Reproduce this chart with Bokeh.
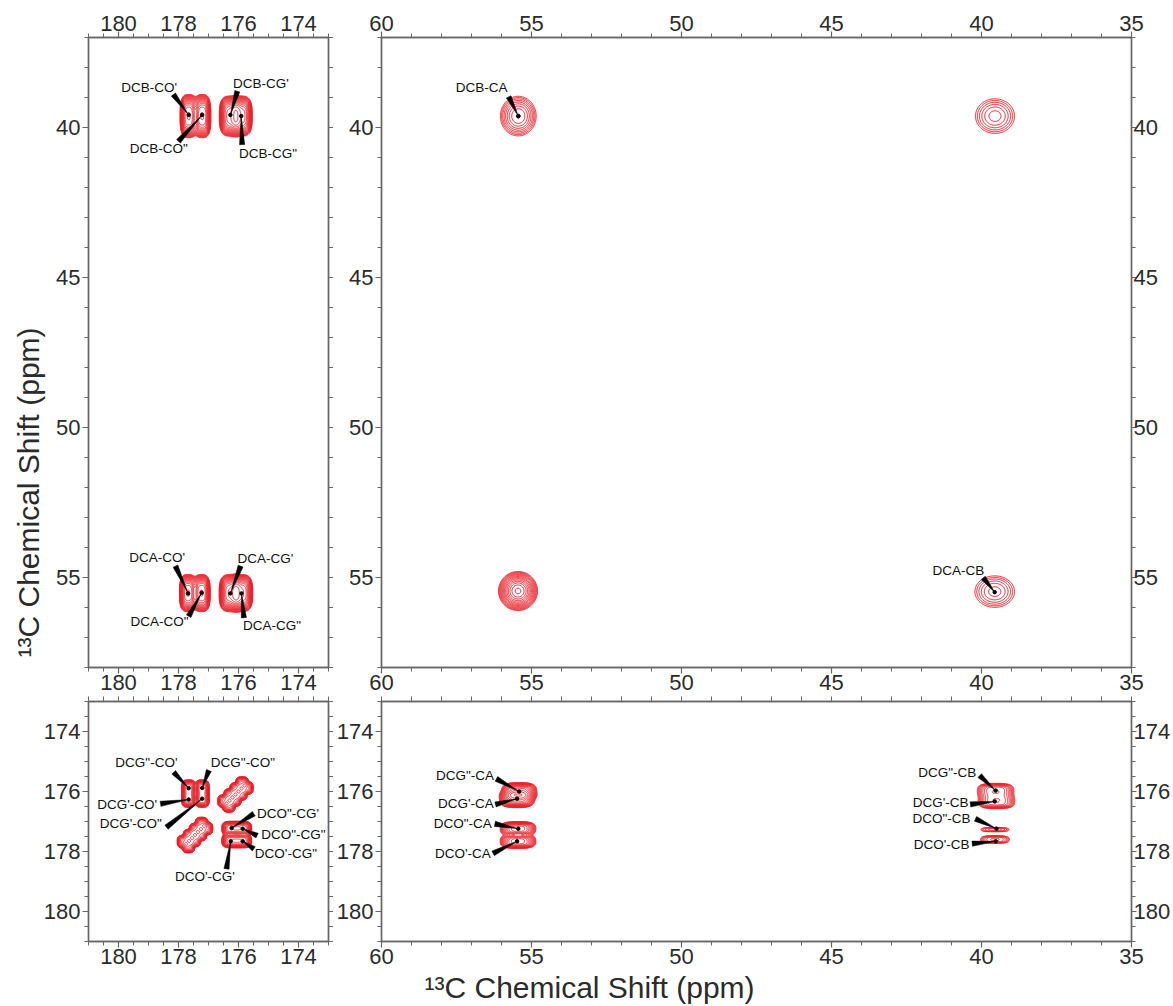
import numpy as np
from bokeh.plotting import figure
from bokeh.models import Range1d, LinearAxis, FixedTicker, Title
from bokeh.layouts import gridplot
from bokeh.core.properties import value
from bokeh.embed import file_html
from bokeh.resources import INLINE

# ---------------- axis ticks ----------------
CO_TICKS = [174, 176, 178, 180]            # carbonyl axis (both x and y)
ALI_Y_TICKS = [40, 45, 50, 55]             # aliphatic y axis (top row)
ALI_X_TICKS = [35, 40, 45, 50, 55, 60]     # aliphatic x axis (right column)
CO_MINOR = list(np.arange(173.0, 181.01, 0.5))
ALI_Y_MINOR = list(np.arange(37, 59, 1))
ALI_X_MINOR = list(np.arange(35, 61, 1))

# ---------------- peaks (centre x, centre y, width x, width y, amplitude) ----------------
# top-left: x = carbonyl region, y = aliphatic region
TL_PX = [177.66, 177.21, 176.27, 175.91, 177.68, 177.23, 176.27, 175.90]
TL_PY = [39.62, 39.62, 39.62, 39.62, 55.52, 55.52, 55.52, 55.52]
TL_WX = [0.20, 0.20, 0.26, 0.26, 0.20, 0.20, 0.26, 0.26]
TL_WY = [0.50, 0.50, 0.47, 0.47, 0.43, 0.43, 0.43, 0.43]
TL_AMP = [1.0, 1.0, 0.9, 0.9, 1.0, 1.0, 1.0, 1.0]

# top-right: x = aliphatic, y = aliphatic
TR_PX = [55.44, 39.55, 55.45, 39.56]
TR_PY = [39.62, 39.62, 55.45, 55.47]
TR_WX = [0.47, 0.62, 0.40, 0.63]
TR_WY = [0.52, 0.55, 0.40, 0.50]
TR_AMP = [0.25, 0.15, 0.70, 0.15]

# bottom-left: x = carbonyl, y = carbonyl
BL_PX = [177.66, 177.21, 177.66, 177.21,
         175.88, 176.08, 176.28, 176.48, 175.72, 175.92, 176.12, 176.32,
         177.23, 177.43, 177.63, 177.83, 177.07, 177.27, 177.47, 177.67,
         176.25, 175.87, 176.25, 175.87]
BL_PY = [175.89, 175.89, 176.25, 176.25,
         175.72, 175.92, 176.12, 176.32, 175.88, 176.08, 176.28, 176.48,
         177.07, 177.27, 177.47, 177.67, 177.23, 177.43, 177.63, 177.83,
         177.23, 177.23, 177.64, 177.64]
BL_WX = [0.17, 0.17, 0.17, 0.17] + [0.165] * 16 + [0.22, 0.22, 0.22, 0.22]
BL_WY = [0.20, 0.20, 0.20, 0.20] + [0.165] * 16 + [0.17, 0.17, 0.17, 0.17]
BL_AMP = [0.8, 0.8, 0.8, 0.8] + [0.45] * 16 + [0.8, 0.8, 0.8, 0.8]

# bottom-right: x = aliphatic, y = carbonyl
BR_PX = [55.41, 55.48, 55.45, 55.45, 39.53, 39.50, 39.55, 39.55]
BR_PY = [176.00, 176.24, 177.24, 177.66, 175.97, 176.33, 177.27, 177.60]
BR_WX = [0.43, 0.43, 0.45, 0.45, 0.50, 0.50, 0.49, 0.45]
BR_WY = [0.22, 0.22, 0.18, 0.18, 0.20, 0.20, 0.075, 0.12]
BR_AMP = [0.6, 0.6, 0.5, 0.5, 0.3, 0.3, 0.12, 0.17]

# ---------------- assignment labels ----------------
TL_TEXT = ["DCB-CO'", 'DCB-CO"', "DCB-CG'", 'DCB-CG"',
           "DCA-CO'", 'DCA-CO"', "DCA-CG'", 'DCA-CG"']
TL_LX = [178.98, 178.66, 175.25, 175.02, 178.71, 178.63, 175.10, 174.88]
TL_LY = [38.65, 40.70, 38.53, 40.87, 54.32, 56.48, 54.37, 56.59]
TL_SX = [178.17, 178.00, 176.04, 175.88, 178.10, 177.66, 175.93, 175.82]
TL_SY = [38.90, 40.46, 38.79, 40.57, 54.62, 56.29, 54.62, 56.34]
TL_TX = [177.66, 177.21, 176.27, 175.91, 177.68, 177.23, 176.27, 175.90]
TL_TY = [39.58, 39.58, 39.58, 39.62, 55.53, 55.51, 55.53, 55.53]

TR_TEXT = ["DCB-CA", "DCA-CB"]
TR_LX = [56.66, 40.77]
TR_LY = [38.68, 54.75]
TR_SX = [55.76, 39.94]
TR_SY = [38.98, 55.01]
TR_TX = [55.44, 39.56]
TR_TY = [39.62, 55.49]

BL_TEXT = ["DCG\"-CO'", 'DCG"-CO"', "DCG'-CO'", "DCG'-CO\"",
           "DCO\"-CG'", 'DCO"-CG"', "DCO'-CG\"", "DCO'-CG'"]
BL_LX = [179.07, 175.85, 179.71, 179.59, 174.35, 174.17, 174.42, 177.12]
BL_LY = [175.02, 175.02, 176.42, 177.07, 176.72, 177.44, 178.05, 178.83]
BL_SX = [178.16, 176.99, 178.60, 178.40, 175.49, 175.38, 175.49, 176.40]
BL_SY = [175.36, 175.30, 176.41, 177.19, 176.74, 177.47, 177.91, 178.58]
BL_TX = [177.66, 177.21, 177.66, 177.21, 176.23, 175.86, 175.86, 176.26]
BL_TY = [175.89, 175.88, 176.27, 176.24, 177.22, 177.24, 177.66, 177.66]

BR_TEXT = ["DCG\"-CA", "DCG'-CA", "DCO\"-CA", "DCO'-CA",
           "DCG\"-CB", "DCG'-CB", "DCO\"-CB", "DCO'-CB"]
BR_LX = [57.22, 57.19, 57.29, 57.29, 41.14, 41.36, 41.33, 41.33]
BR_LY = [175.48, 176.41, 177.07, 178.05, 175.38, 176.38, 176.91, 177.77]
BR_SX = [56.17, 56.20, 56.22, 56.28, 40.06, 40.37, 40.20, 40.31]
BR_SY = [175.58, 176.43, 177.08, 178.06, 175.47, 176.43, 176.91, 177.74]
BR_TX = [55.41, 55.48, 55.44, 55.48, 39.53, 39.56, 39.50, 39.53]
BR_TY = [176.00, 176.24, 177.24, 177.66, 175.97, 176.33, 177.24, 177.66]

AXIS_TITLE = "\u00b9\u00b3C Chemical Shift (ppm)"

# ---------------- style ----------------
FONT = "Liberation Sans"
RED = "#e8232b"
AXIS_COLOR = "#666666"
TEXT_COLOR = "#2b2b2b"
PX_PER_PPM = 30.0
LEVELS = 0.05 * 1.22 ** np.arange(22)


def make_fig(xr, yr, fw, fh, left, right, top, bottom):
    p = figure(x_range=Range1d(*xr), y_range=Range1d(*yr),
               frame_width=fw, frame_height=fh,
               x_axis_type=None, y_axis_type=None, title_location=None,
               toolbar_location=None, output_backend="svg",
               min_border_left=left, min_border_right=right,
               min_border_top=top, min_border_bottom=bottom,
               outline_line_color=AXIS_COLOR, outline_line_width=1.4,
               background_fill_color="white", border_fill_color="white")
    return p


def add_axis(p, side, ticks, minor, labels=True):
    if labels:
        ax = LinearAxis(ticker=FixedTicker(ticks=ticks, minor_ticks=minor))
    else:
        # ticks only: every tick drawn as a minor tick, so no label is created
        ax = LinearAxis(ticker=FixedTicker(ticks=[], minor_ticks=minor))
    ax.axis_line_color = AXIS_COLOR
    ax.axis_line_width = 1.4
    ax.major_tick_line_color = AXIS_COLOR
    ax.minor_tick_line_color = AXIS_COLOR
    ax.major_tick_line_width = 1.2
    ax.minor_tick_line_width = 1.0
    ax.major_tick_in = 0
    ax.minor_tick_in = 0
    ax.major_label_text_font = FONT
    ax.major_label_text_color = TEXT_COLOR
    ax.major_label_text_font_size = "22px"
    if labels:
        ax.major_tick_out = 6
        ax.minor_tick_out = 4
        if side == "right":
            ax.major_tick_out = 5
            ax.major_label_standoff = -3
        elif side == "left":
            ax.major_label_standoff = 2
        else:
            ax.major_label_standoff = 1
    else:
        ax.major_tick_out = 5
        ax.minor_tick_out = 5
        ax.major_label_standoff = 0
    p.add_layout(ax, side)


def add_contours(p, xr, yr, sx, sy, px, py, wx, wy, amp, shape):
    xg = np.arange(min(xr), max(xr) + sx / 2, sx)
    yg = np.arange(min(yr), max(yr) + sy / 2, sy)
    X, Y = np.meshgrid(xg, yg)
    Z = np.zeros_like(X)
    for x0, y0, a, b, A in zip(px, py, wx, wy, amp):
        Z += A * np.exp(-(np.abs((X - x0) / a) ** shape + np.abs((Y - y0) / b) ** shape))
    levels = [float(l) for l in LEVELS if l < Z.max()]
    p.contour(xg, yg, Z, levels, line_color=RED, line_width=1.0)


def add_labels(p, texts, lx, ly, sx, sy, tx, ty):
    hw = 2.6 / PX_PER_PPM
    xs, ys = [], []
    for a, b, c, d in zip(sx, sy, tx, ty):
        dx, dy = c - a, d - b
        L = np.hypot(dx, dy)
        nx, ny = -dy / L * hw, dx / L * hw
        xs.append([a + nx, a - nx, c])
        ys.append([b + ny, b - ny, d])
    p.patches(xs, ys, fill_color="black", line_color="black", line_width=0.5)
    p.scatter(tx, ty, size=3.5, color="black")
    p.text(lx, ly, text=texts, text_align="center", text_baseline="middle",
           text_font=value(FONT), text_font_size="13.5px", text_color="#111111")


TL_XR, TL_YR = (181, 173), (58, 37)
TR_XR, TR_YR = (60, 35), (58, 37)
BL_XR, BL_YR = (181, 173), (181, 173)
BR_XR, BR_YR = (60, 35), (181, 173)

tl = make_fig(TL_XR, TL_YR, 240, 630, 88, 5, 37, 29)
tr = make_fig(TR_XR, TR_YR, 750, 630, 47, 42, 37, 29)
bl = make_fig(BL_XR, BL_YR, 240, 240, 88, 5, 2, 30)
br = make_fig(BR_XR, BR_YR, 750, 240, 47, 42, 2, 20)

add_axis(tl, "above", CO_TICKS, CO_MINOR)
add_axis(tl, "below", CO_TICKS, CO_MINOR)
add_axis(tl, "left", ALI_Y_TICKS, ALI_Y_MINOR)
add_axis(tl, "right", ALI_Y_TICKS, ALI_Y_MINOR, labels=False)

add_axis(tr, "above", ALI_X_TICKS, ALI_X_MINOR)
add_axis(tr, "below", ALI_X_TICKS, ALI_X_MINOR)
add_axis(tr, "left", ALI_Y_TICKS, ALI_Y_MINOR)
add_axis(tr, "right", ALI_Y_TICKS, ALI_Y_MINOR)

add_axis(bl, "above", CO_TICKS, CO_MINOR, labels=False)
add_axis(bl, "below", CO_TICKS, CO_MINOR)
add_axis(bl, "left", CO_TICKS, CO_MINOR)
add_axis(bl, "right", CO_TICKS, CO_MINOR, labels=False)

add_axis(br, "above", ALI_X_TICKS, ALI_X_MINOR, labels=False)
add_axis(br, "below", ALI_X_TICKS, ALI_X_MINOR)
add_axis(br, "left", CO_TICKS, CO_MINOR)
add_axis(br, "right", CO_TICKS, CO_MINOR)

add_contours(tl, TL_XR, TL_YR, 0.01, 0.02, TL_PX, TL_PY, TL_WX, TL_WY, TL_AMP, 3.0)
add_contours(tr, TR_XR, TR_YR, 0.025, 0.025, TR_PX, TR_PY, TR_WX, TR_WY, TR_AMP, 2.0)
add_contours(bl, BL_XR, BL_YR, 0.008, 0.008, BL_PX, BL_PY, BL_WX, BL_WY, BL_AMP, 3.0)
add_contours(br, BR_XR, BR_YR, 0.02, 0.01, BR_PX, BR_PY, BR_WX, BR_WY, BR_AMP, 3.0)

add_labels(tl, TL_TEXT, TL_LX, TL_LY, TL_SX, TL_SY, TL_TX, TL_TY)
add_labels(tr, TR_TEXT, TR_LX, TR_LY, TR_SX, TR_SY, TR_TX, TR_TY)
add_labels(bl, BL_TEXT, BL_LX, BL_LY, BL_SX, BL_SY, BL_TX, BL_TY)
add_labels(br, BR_TEXT, BR_LX, BR_LY, BR_SX, BR_SY, BR_TX, BR_TY)

# vertical axis title: left of the top-left panel, reading upwards
tl.add_layout(Title(text=AXIS_TITLE, align="left", offset=10, standoff=17,
                    vertical_align="bottom", text_font=FONT,
                    text_font_size="30px", text_font_style="normal",
                    text_color=TEXT_COLOR), "left")

# horizontal axis title: below the bottom-right panel
br.add_layout(Title(text=AXIS_TITLE, align="left", offset=43, standoff=9,
                    vertical_align="top", text_font=FONT,
                    text_font_size="30px", text_font_style="normal",
                    text_color=TEXT_COLOR), "below")

grid = gridplot([[tl, tr], [bl, br]], toolbar_location=None)
open("out.html", "w").write(file_html(grid, INLINE))
